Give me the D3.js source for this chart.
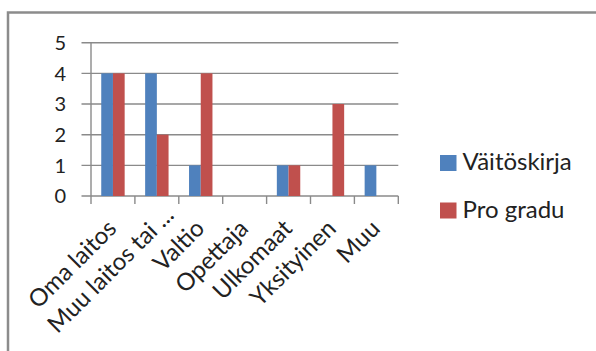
<!DOCTYPE html>
<html>
<head>
<meta charset="utf-8">
<script src="https://cdn.jsdelivr.net/npm/d3@7/dist/d3.min.js"></script>
<style>
  html, body { margin: 0; padding: 0; background: #fff; }
  svg { display: block; }
  text { font-family: Lato, "Open Sans", sans-serif; fill: #222; }
</style>
</head>
<body>
<svg id="chart" width="596" height="351"></svg>
<script>
// Rahoittajat: väitöskirjat ja pro gradu -työt
const categories = ["Oma laitos", "Muu laitos tai ...", "Valtio", "Opettaja", "Ulkomaat", "Yksityinen", "Muu"];
const seriesNames = ["Väitöskirja", "Pro gradu"];
const vaitoskirja = [4, 4, 1, 0, 1, 0, 1];
const proGradu = [4, 2, 4, 0, 1, 3, 0];
const yTicks = [0, 1, 2, 3, 4, 5];
const colors = ["#4f81bd", "#c0504d"];

const seriesValues = [vaitoskirja, proGradu];
const rows = categories.map((c, i) => ({
  category: c,
  values: seriesNames.map((s, k) => ({ series: s, value: seriesValues[k][i] }))
}));

const svg = d3.select("#chart");

// chart area frame (continues past the right and bottom edges)
svg.append("rect")
  .attr("x", 8).attr("y", 12.5)
  .attr("width", 640).attr("height", 400)
  .attr("fill", "#fff")
  .attr("stroke", "#8c8c8c")
  .attr("stroke-width", 2.5);

const plot = { left: 91, right: 398.3, top: 42.7, bottom: 196 };

const x0 = d3.scaleBand().domain(categories).range([plot.left, plot.right]).padding(0);
const x1 = d3.scaleBand().domain(seriesNames).range([0, x0.bandwidth()])
  .paddingInner(0).paddingOuter(0.875);
const y = d3.scaleLinear().domain([0, 5]).range([plot.bottom, plot.top]);

const gridColor = "#8a8a8a";

// horizontal gridlines with outward ticks on the value axis
svg.append("g")
  .selectAll("line")
  .data(yTicks)
  .join("line")
  .attr("x1", plot.left - 9.5).attr("x2", plot.right)
  .attr("y1", d => y(d)).attr("y2", d => y(d))
  .attr("stroke", gridColor).attr("stroke-width", 1.4);

// value axis line
svg.append("line")
  .attr("x1", plot.left).attr("x2", plot.left)
  .attr("y1", y(5)).attr("y2", y(0))
  .attr("stroke", gridColor).attr("stroke-width", 1.4);

// category tick marks at band boundaries
const boundaries = categories.map(c => x0(c)).concat([x0.range()[1]]);
svg.append("g")
  .selectAll("line")
  .data(boundaries)
  .join("line")
  .attr("x1", d => d).attr("x2", d => d)
  .attr("y1", y(0)).attr("y2", y(0) + 8)
  .attr("stroke", gridColor).attr("stroke-width", 1.4);

// value labels
svg.append("g")
  .selectAll("text")
  .data(yTicks)
  .join("text")
  .attr("x", 66)
  .attr("y", d => y(d))
  .attr("dy", "0.36em")
  .attr("text-anchor", "end")
  .attr("font-size", 20)
  .text(d => d);

// bars
const groups = svg.append("g")
  .selectAll("g")
  .data(rows)
  .join("g")
  .attr("transform", d => `translate(${x0(d.category)},0)`);

groups.selectAll("rect")
  .data(d => d.values)
  .join("rect")
  .attr("x", d => x1(d.series))
  .attr("width", x1.bandwidth())
  .attr("y", d => y(d.value))
  .attr("height", d => y(0) - y(d.value))
  .attr("fill", (d, i) => colors[i]);

// rotated category labels; a truncated label sits further along its line
svg.append("g")
  .selectAll("text")
  .data(categories)
  .join("text")
  .attr("transform", d => `translate(${x0(d) + x0.bandwidth() / 2 + 5},${y(0) + 34}) rotate(-45)`)
  .attr("dx", d => d.endsWith("...") ? 19 : 0)
  .attr("text-anchor", "end")
  .attr("font-size", 24)
  .text(d => d);

// legend
const legend = svg.append("g")
  .selectAll("g")
  .data(seriesNames)
  .join("g")
  .attr("transform", (d, i) => `translate(440,${155 + i * 47.5})`);

legend.append("rect")
  .attr("width", 16.5).attr("height", 16)
  .attr("fill", (d, i) => colors[i]);

legend.append("text")
  .attr("x", 22.5)
  .attr("y", 15)
  .attr("font-size", 24)
  .text(d => d);
</script>
</body>
</html>
